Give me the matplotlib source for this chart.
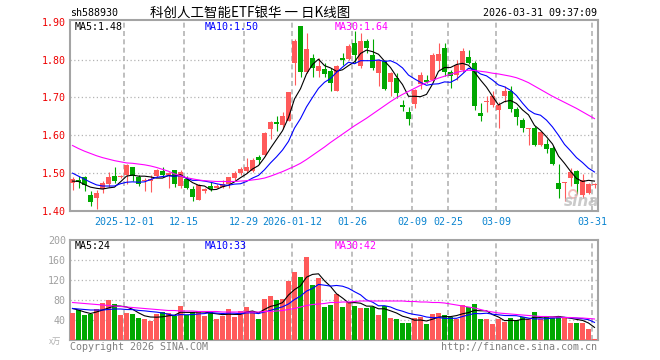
import matplotlib

matplotlib.use("Agg")
import matplotlib.pyplot as plt
from matplotlib.patches import Ellipse
import numpy as np

# daily bars, 2025-11-18 .. 2026-03-31
opens = [1.473, 1.483, 1.489, 1.442, 1.435, 1.457, 1.470, 1.493, 1.489, 1.496,
         1.517, 1.489, 1.478, 1.479, 1.493, 1.505, 1.496, 1.507, 1.466, 1.485,
         1.457, 1.430, 1.453, 1.466, 1.461, 1.463, 1.470, 1.488, 1.500, 1.505,
         1.505, 1.542, 1.547, 1.617, 1.634, 1.628, 1.639, 1.790, 1.888, 1.768,
         1.805, 1.770, 1.775, 1.770, 1.718, 1.805, 1.802, 1.845, 1.782, 1.849,
         1.812, 1.764, 1.795, 1.740, 1.751, 1.679, 1.661, 1.682, 1.735, 1.747,
         1.747, 1.797, 1.830, 1.768, 1.758, 1.773, 1.807, 1.792, 1.659, 1.688,
         1.679, 1.668, 1.703, 1.716, 1.669, 1.641, 1.616, 1.619, 1.575, 1.577,
         1.567, 1.475, 1.474, 1.488, 1.505, 1.442, 1.448, 1.469]
closes = [1.484, 1.477, 1.468, 1.424, 1.447, 1.475, 1.489, 1.480, 1.493, 1.522,
          1.493, 1.470, 1.480, 1.484, 1.507, 1.496, 1.501, 1.470, 1.504, 1.461,
          1.438, 1.468, 1.457, 1.457, 1.467, 1.470, 1.490, 1.501, 1.510, 1.517,
          1.536, 1.536, 1.606, 1.634, 1.631, 1.652, 1.714, 1.849, 1.768, 1.827,
          1.779, 1.783, 1.762, 1.739, 1.783, 1.800, 1.836, 1.812, 1.849, 1.830,
          1.779, 1.799, 1.722, 1.764, 1.711, 1.676, 1.644, 1.720, 1.758, 1.742,
          1.812, 1.814, 1.768, 1.757, 1.786, 1.823, 1.792, 1.677, 1.652, 1.690,
          1.704, 1.679, 1.718, 1.670, 1.648, 1.618, 1.618, 1.574, 1.608, 1.564,
          1.523, 1.457, 1.476, 1.504, 1.470, 1.483, 1.470, 1.470]
highs = [1.490, 1.492, 1.492, 1.453, 1.455, 1.479, 1.503, 1.517, 1.496, 1.525,
         1.517, 1.494, 1.487, 1.496, 1.510, 1.517, 1.502, 1.507, 1.507, 1.492,
         1.466, 1.470, 1.462, 1.477, 1.470, 1.483, 1.490, 1.505, 1.517, 1.540,
         1.540, 1.547, 1.608, 1.639, 1.652, 1.661, 1.714, 1.854, 1.889, 1.869,
         1.814, 1.804, 1.790, 1.777, 1.786, 1.817, 1.840, 1.875, 1.869, 1.854,
         1.853, 1.802, 1.799, 1.768, 1.764, 1.694, 1.674, 1.723, 1.766, 1.758,
         1.817, 1.843, 1.843, 1.773, 1.799, 1.830, 1.825, 1.795, 1.685, 1.703,
         1.718, 1.689, 1.729, 1.729, 1.676, 1.646, 1.619, 1.624, 1.611, 1.589,
         1.571, 1.523, 1.476, 1.514, 1.507, 1.499, 1.475, 1.475]
lows = [1.456, 1.462, 1.453, 1.413, 1.405, 1.448, 1.464, 1.473, 1.487, 1.472,
        1.479, 1.466, 1.452, 1.451, 1.489, 1.492, 1.461, 1.464, 1.461, 1.459,
        1.426, 1.428, 1.447, 1.453, 1.460, 1.460, 1.460, 1.483, 1.496, 1.501,
        1.503, 1.523, 1.545, 1.591, 1.612, 1.617, 1.637, 1.733, 1.755, 1.764,
        1.753, 1.755, 1.753, 1.718, 1.716, 1.786, 1.799, 1.790, 1.779, 1.817,
        1.773, 1.729, 1.720, 1.703, 1.698, 1.663, 1.628, 1.672, 1.723, 1.738,
        1.744, 1.773, 1.757, 1.725, 1.746, 1.768, 1.789, 1.666, 1.637, 1.661,
        1.674, 1.619, 1.689, 1.661, 1.626, 1.608, 1.575, 1.571, 1.571, 1.553,
        1.521, 1.435, 1.426, 1.466, 1.444, 1.435, 1.446, 1.461]

ma5 = [1.479, 1.478, 1.470, 1.463, 1.460, 1.458, 1.461, 1.463, 1.477, 1.492,
       1.495, 1.492, 1.492, 1.490, 1.487, 1.487, 1.494, 1.492, 1.496, 1.486,
       1.475, 1.468, 1.466, 1.456, 1.457, 1.464, 1.468, 1.477, 1.488, 1.498,
       1.511, 1.520, 1.541, 1.566, 1.589, 1.612, 1.647, 1.696, 1.723, 1.762,
       1.787, 1.801, 1.784, 1.778, 1.769, 1.773, 1.784, 1.794, 1.816, 1.825,
       1.821, 1.814, 1.796, 1.779, 1.755, 1.734, 1.703, 1.703, 1.702, 1.708,
       1.735, 1.769, 1.779, 1.779, 1.787, 1.790, 1.785, 1.767, 1.746, 1.727,
       1.703, 1.680, 1.689, 1.692, 1.684, 1.667, 1.654, 1.626, 1.613, 1.596,
       1.577, 1.545, 1.526, 1.505, 1.486, 1.478, 1.481, 1.479]
ma10 = [1.500, 1.492, 1.484, 1.476, 1.469, 1.466, 1.466, 1.466, 1.472, 1.476,
        1.477, 1.476, 1.477, 1.483, 1.489, 1.491, 1.493, 1.492, 1.493, 1.487,
        1.481, 1.481, 1.479, 1.476, 1.472, 1.469, 1.468, 1.471, 1.472, 1.478,
        1.487, 1.494, 1.509, 1.527, 1.543, 1.561, 1.584, 1.619, 1.644, 1.675,
        1.700, 1.724, 1.740, 1.750, 1.766, 1.780, 1.793, 1.789, 1.797, 1.797,
        1.797, 1.799, 1.795, 1.797, 1.790, 1.778, 1.759, 1.749, 1.740, 1.732,
        1.735, 1.736, 1.741, 1.740, 1.748, 1.762, 1.777, 1.773, 1.762, 1.757,
        1.746, 1.733, 1.728, 1.719, 1.705, 1.685, 1.667, 1.657, 1.653, 1.640,
        1.622, 1.600, 1.576, 1.559, 1.541, 1.528, 1.513, 1.503]
ma30 = [1.573, 1.565, 1.558, 1.552, 1.546, 1.541, 1.537, 1.533, 1.530, 1.527,
        1.526, 1.524, 1.522, 1.519, 1.515, 1.510, 1.505, 1.498, 1.493, 1.488,
        1.485, 1.482, 1.480, 1.479, 1.478, 1.478, 1.478, 1.478, 1.479, 1.480,
        1.482, 1.484, 1.487, 1.492, 1.498, 1.504, 1.511, 1.518, 1.526, 1.536,
        1.547, 1.558, 1.569, 1.581, 1.592, 1.603, 1.614, 1.625, 1.635, 1.645,
        1.656, 1.667, 1.678, 1.689, 1.699, 1.708, 1.716, 1.724, 1.732, 1.739,
        1.745, 1.751, 1.756, 1.761, 1.766, 1.770, 1.772, 1.771, 1.769, 1.767,
        1.764, 1.762, 1.759, 1.756, 1.752, 1.746, 1.739, 1.730, 1.721, 1.712,
        1.703, 1.695, 1.687, 1.679, 1.671, 1.662, 1.653, 1.644]

vols = [54, 60, 51, 52, 63, 74, 80, 72, 50, 54,
        52, 44, 42, 38, 52, 56, 54, 48, 68, 50,
        56, 58, 48, 58, 42, 48, 62, 46, 58, 66,
        58, 42, 82, 88, 80, 82, 118, 136, 126, 166,
        110, 124, 66, 70, 93, 67, 76, 68, 64, 64,
        66, 50, 68, 44, 42, 34, 34, 44, 46, 32,
        52, 54, 50, 46, 42, 70, 66, 72, 42, 42,
        32, 42, 36, 44, 40, 46, 42, 56, 42, 46,
        44, 48, 46, 34, 34, 34, 22, 2]
vma5 = [63, 60, 56, 53, 56, 60, 64, 68.2, 67.8, 66,
        61.6, 54.4, 48.4, 46, 45.6, 46.4, 48.4, 49.6, 55.6, 55.2,
        55.2, 56, 56, 54, 52.4, 50.8, 51.6, 51.2, 51.2, 56,
        58, 54, 61.2, 67.2, 70, 74.8, 90, 100.8, 108.4, 125.6,
        131.2, 132.4, 118.4, 107.2, 92.6, 84, 74.4, 74.8, 73.6, 67.8,
        67.6, 62.4, 62.4, 58.4, 54, 47.6, 44.4, 39.6, 40, 38,
        41.6, 45.6, 46.8, 46.8, 48.8, 52.4, 54.8, 59.2, 58.4, 58.4,
        50.8, 46, 38.8, 39.2, 38.8, 41.6, 41.6, 45.6, 45.2, 46.4,
        46, 47.2, 45.2, 43.6, 41.2, 39.2, 34, 25.2]
vma10 = [63, 62, 61, 60, 60, 60, 61, 62, 62, 61,
         60.8, 59.2, 58.3, 56.9, 55.8, 54, 51.4, 49, 50.8, 50.4,
         50.8, 52.2, 52.8, 54.8, 53.8, 53, 53.8, 53.6, 52.6, 54.2,
         54.4, 52.8, 56.2, 59.2, 63, 66.4, 72, 81, 87.8, 97.8,
         103, 111.2, 109.6, 107.8, 109.1, 107.6, 103.4, 96.6, 90.4, 80.2,
         75.8, 68.4, 68.6, 66, 60.9, 57.6, 53.4, 51, 49.2, 46,
         44.6, 45, 43.2, 43.4, 43.4, 47, 50.2, 53, 52.6, 53.6,
         51.6, 50.4, 49, 48.8, 48.6, 46.2, 43.8, 42.2, 42.2, 42.6,
         43.8, 44.4, 45.4, 44.4, 43.8, 42.6, 40.6, 35.2]
vma30 = [75, 74, 73, 72, 71, 70, 69, 68, 67, 66,
         65, 64, 63, 62, 61, 60, 59, 59, 58, 58,
         58, 57, 57, 57, 57, 56, 56, 56, 56, 56,
         56, 56, 57, 57, 58, 59, 61, 63, 66, 69,
         71, 72, 73, 75, 75, 76, 76, 77, 78, 78,
         78, 78, 78, 78, 78, 78, 77, 77, 76, 76,
         75, 75, 74, 72, 70, 68, 66, 64, 61, 58,
         56, 54, 53, 52, 51, 50, 49, 48, 47, 47,
         46, 46, 45, 45, 44, 44, 43, 42]

date_idx = [9, 19, 29, 37, 47, 57, 63, 71, 87]
date_labels = ["2025-12-01", "12-15", "12-29", "2026-01-12", "01-26",
               "02-09", "02-25", "03-09", "03-31"]
price_ticks = [1.40, 1.50, 1.60, 1.70, 1.80, 1.90]
vol_ticks = [40, 80, 120, 160, 200]

RED = "#ff5a5a"
GREEN = "#00a800"
FRAME = "#a4a4a4"
GRID = "#b4b4b4"
DATE_BLUE = "#0a84d0"
MONO = "DejaVu Sans Mono"
CJK = ["Noto Sans CJK SC", "DejaVu Sans"]

W, H = 660, 360
fig = plt.figure(figsize=(W / 100, H / 100), dpi=100)
fig.patch.set_facecolor("white")


def box(l, t, r, b):
    return [l / W, 1 - b / H, (r - l) / W, (b - t) / H]


def put(x, y, s, **kw):
    kw.setdefault("family", MONO)
    kw.setdefault("fontsize", 7.2)
    kw.setdefault("va", "center")
    fig.text(x / W, 1 - y / H, s, **kw)


ax = fig.add_axes(box(70, 20, 598, 211))
axv = fig.add_axes(box(70, 240, 598, 340))

n = len(closes)
x = np.arange(n)
mid = x + 2.5 / 6
o = np.array(opens)
c = np.array(closes)
colors = np.where(c >= o, RED, GREEN)

# candles
ax.vlines(mid, lows, highs, colors=colors, linewidth=0.8, zorder=3)
ax.bar(x, np.maximum(np.abs(c - o), 0.0027), bottom=np.minimum(o, c),
       width=5 / 6, align="edge", color=colors, linewidth=0, zorder=3)
ax.plot(mid, ma5, color="black", linewidth=0.8, zorder=4)
ax.plot(mid, ma10, color="#0000ff", linewidth=0.8, zorder=4)
ax.plot(mid, ma30, color="#ff00ff", linewidth=0.8, zorder=4)

# volume
axv.bar(x, vols, width=5 / 6, align="edge", color=colors, linewidth=0, zorder=3)
axv.plot(mid, vma5, color="black", linewidth=0.8, zorder=4)
axv.plot(mid, vma10, color="#0000ff", linewidth=0.8, zorder=4)
axv.plot(mid, vma30, color="#ff00ff", linewidth=0.8, zorder=4)

for a, hl in ((ax, price_ticks[1:-1]), (axv, vol_ticks[:-1])):
    a.set_xlim(0, n)
    for xi in date_idx:
        a.axvline(xi, color=GRID, linewidth=1.2, linestyle=(0, (3, 2)), zorder=1)
    for yv in hl:
        a.axhline(yv, color=GRID, linewidth=0.9, linestyle=(0, (1, 2)), zorder=1)
    for s in a.spines.values():
        s.set_color(FRAME)
        s.set_linewidth(1.5)
    a.tick_params(length=0)

ax.set_ylim(1.40, 1.9045)
ax.set_yticks(price_ticks)
ax.set_yticklabels([f"{v:.2f}" for v in price_ticks], color="#ee0000",
                   family=MONO, fontsize=7.2)
ax.tick_params(axis="y", pad=3)
ax.set_xticks(date_idx)
ax.set_xticklabels(date_labels, color=DATE_BLUE, family=MONO, fontsize=7.2)
ax.tick_params(axis="x", pad=4)

axv.set_ylim(0, 200)
axv.set_yticks(vol_ticks)
axv.set_yticklabels([str(v) for v in vol_ticks], color="#a0a0a0",
                    family=MONO, fontsize=7.2)
axv.tick_params(axis="y", pad=3)
axv.set_xticks([])

# header
put(70, 13, "sh588930")
put(250, 13, "科创人工智能ETF银华 一 日K线图", family=CJK, fontsize=9.7, ha="center")
put(597, 13, "2026-03-31 09:37:09", ha="right")

put(75, 27, "MA5:1.48", color="black")
put(205, 27, "MA10:1.50", color="#0000ff")
put(335, 27, "MA30:1.64", color="#ff00ff")

put(75, 246, "MA5:24", color="black")
put(205, 246, "MA10:33", color="#0000ff")
put(335, 246, "MA30:42", color="#ff00ff")

put(49, 341, "x万", family=CJK, fontsize=6, color="#b0b0b0")
put(70, 347, "Copyright 2026 SINA.COM", color="#808080")
put(597, 347, "http://finance.sina.com.cn", color="#808080", ha="right")

# watermark: small pink eye logo + "sina"
fig.add_artist(Ellipse((573 / W, 1 - 194 / H), 8 / W, 8 / H, fill=False,
                       edgecolor="#f4a0a0", linewidth=1.4, alpha=0.7, zorder=5))
put(582, 201, "sina", family="DejaVu Sans", fontsize=11, fontweight="bold",
    style="italic", color="#bdbdbd", ha="center", alpha=0.8, zorder=5)

fig.savefig("out.png", dpi=100, facecolor="white")
